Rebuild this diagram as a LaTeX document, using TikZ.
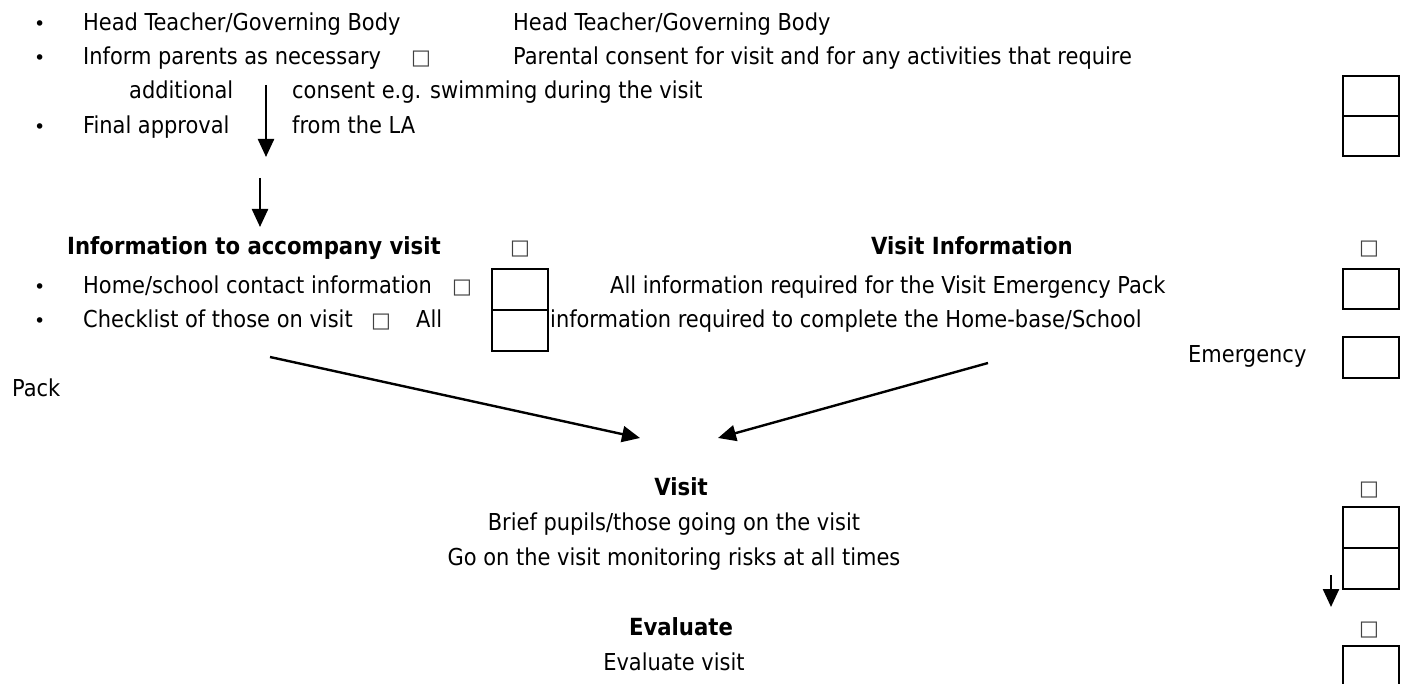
\documentclass[tikz,border=0pt]{standalone}
\usepackage{fontspec}
\setmainfont{DejaVu Sans Condensed}
\newfontfamily\symfont{DejaVu Sans}
\usetikzlibrary{arrows.meta}
\begin{document}
\begin{tikzpicture}[x=1pt,y=-1pt,
  txt/.style={inner sep=0pt, anchor=base west, font=\fontsize{23.3}{28}\selectfont},
  ctxt/.style={inner sep=0pt, anchor=base, font=\fontsize{23.3}{28}\selectfont},
  hd/.style={inner sep=0pt, anchor=base, font=\fontsize{23.6}{28}\selectfont\bfseries},
  bul/.style={inner sep=0pt, anchor=base west, font=\symfont\fontsize{19}{22}\selectfont},
  tick/.style={inner sep=0pt, anchor=base west, font=\symfont\fontsize{21}{24}\selectfont, text=black!75},
  bx/.style={draw, line width=2.4pt, minimum width=56pt, minimum height=41pt, inner sep=0pt, anchor=north west},
  arr/.style={line width=2.4pt, -{Triangle[length=18pt,width=16pt]}},
]
\useasboundingbox (0,0) rectangle (1406,684);

% --- top block
\node[bul] (u1) at (34,31) {•};
\node[txt] (t1) at (83,31) {Head Teacher/Governing Body};
\node[txt] (t1b) at (513,31) {Head Teacher/Governing Body};
\node[bul] (u2) at (34,65) {•};
\node[txt] (t2) at (83,65) {Inform parents as necessary};
\node[tick] (c2) at (411,65) {□};
\node[txt] (t2b) at (513,65) {Parental consent for visit and for any activities that require};
\node[txt] (t3) at (129,99) {additional};
\node[txt] (t3b) at (292,99) {consent e.g. swimming during the visit};
\node[bul] (u4) at (34,134) {•};
\node[txt] (t4) at (83,134) {Final approval};
\node[txt] (t4b) at (292,134) {from the LA};

\node[bx, minimum height=40pt] (r1) at (1342,75) {};
\node[bx, minimum height=40pt] (r2) at (1342,115) {};

\coordinate (a1s) at (266,85);
\coordinate (a1e) at (266,157);
\draw[arr] (a1s) -- (a1e);
\coordinate (a2s) at (260,178);
\coordinate (a2e) at (260,227);
\draw[arr] (a2s) -- (a2e);

% --- information block
\node[hd, anchor=base west] (h1) at (67,255) {Information to accompany visit};
\node[tick] (c3) at (510,255) {□};
\node[hd] (h2) at (972,255) {Visit Information};
\node[tick] (c4) at (1359,255) {□};

\node[bul] (u5) at (34,294) {•};
\node[txt] (t5) at (83,294) {Home/school contact information};
\node[tick] (c5) at (452,294) {□};
\node[txt] (t5b) at (610,294) {All information required for the Visit Emergency Pack};
\node[bul] (u6) at (34,328) {•};
\node[txt] (t6) at (83,328) {Checklist of those on visit};
\node[tick] (c6) at (371,328) {□};
\node[txt] (t6a) at (416,328) {All};
\node[txt] (t6b) at (550,328) {information required to complete the Home-base/School};
\node[txt] (t7) at (1188,363) {Emergency};
\node[txt] (t8) at (12,397) {Pack};

\node[bx] (m1) at (491,268) {};
\node[bx] (m2) at (491,309) {};
\node[bx, minimum height=40pt] (r3) at (1342,268) {};
\node[bx] (r4) at (1342,336) {};

\coordinate (d1s) at (270,357);
\coordinate (d1e) at (640,438);
\draw[arr] (d1s) -- (d1e);
\coordinate (d2s) at (988,363);
\coordinate (d2e) at (718,438);
\draw[arr] (d2s) -- (d2e);

% --- visit block
\node[hd] (v1) at (681,495) {Visit};
\node[tick] (c7) at (1359,495) {□};
\node[ctxt] (v2) at (674,530) {Brief pupils/those going on the visit};
\node[ctxt] (v3) at (674,565) {Go on the visit monitoring risks at all times};
\node[bx] (r5) at (1342,506) {};
\node[bx] (r6) at (1342,547) {};

\coordinate (s1s) at (1331,575);
\coordinate (s1e) at (1331,607);
\draw[arr] (s1s) -- (s1e);

% --- evaluate block
\node[hd] (e1) at (681,635) {Evaluate};
\node[tick] (c8) at (1359,635) {□};
\node[ctxt] (e2) at (674,670) {Evaluate visit};
\node[bx, minimum height=48pt] (r7) at (1342,645) {};
\end{tikzpicture}
\end{document}
